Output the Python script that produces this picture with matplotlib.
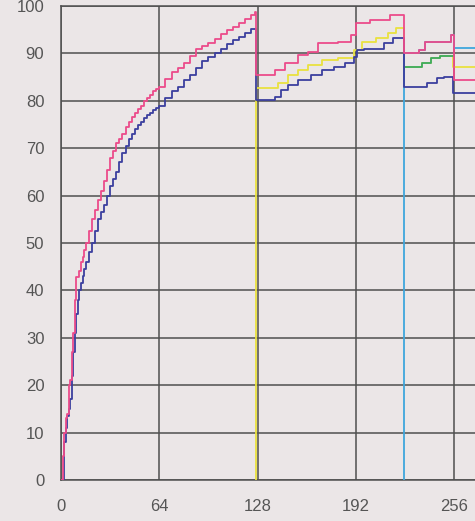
import matplotlib
matplotlib.use("Agg")
import matplotlib.pyplot as plt

# ---- data ----
pink_x = [0, 1, 2, 3, 4, 5, 6, 7, 8, 9, 10, 12, 13, 14, 15, 16, 18, 20, 22, 24, 26, 28, 30,
          32, 34, 36, 38, 40, 42, 44, 46, 48, 50, 52, 54, 56, 58, 60, 62,
          64, 68, 72, 76, 80, 84, 88, 92, 96, 100, 104, 108, 112, 116, 120, 124, 126,
          127, 139, 146, 154, 161, 167, 180, 189, 192, 201, 214,
          223, 233, 237, 254, 256, 269.5]
pink_y = [0, 5, 10, 13, 14, 20, 21, 27, 31, 38, 42.8, 44, 46, 47, 48.5, 50, 52.5, 55, 57, 59, 61, 63, 65.5,
          68, 69.5, 71, 72, 73, 74.5, 75.5, 76.5, 77.5, 78.3, 79, 80, 80.5, 81.2, 82, 82.5,
          83, 84.5, 86, 87, 88, 89.5, 91, 91.5, 92.2, 93, 94, 95, 95.6, 96.5, 97.3, 98, 98.8,
          85.5, 86.5, 88, 89.7, 90.4, 92.1, 92.5, 93.9, 96.4, 97, 98,
          90, 90.7, 92.5, 93.9, 84.4, 84.4]

blue_x = [0, 2, 3, 4, 5, 6, 7, 8, 9, 10, 11, 12, 13, 14, 15, 16, 18, 20, 22, 24, 26, 28, 30,
          32, 34, 36, 38, 40, 42, 44, 46, 48, 50, 52, 54, 56, 58, 60, 62,
          64, 68, 72, 76, 80, 84, 88, 92, 96, 100, 104, 108, 112, 116, 120, 124,
          127, 139, 143.5, 148, 154, 163, 170, 178, 185, 191, 193, 197, 210, 216,
          223, 238, 245, 249, 255.5, 269.5]
blue_y = [0, 8, 11, 13.5, 15, 17, 22, 27, 31, 35, 38, 40, 41.5, 43, 44.5, 46, 48, 50, 52.5, 55, 56.5, 58, 60,
          62, 63.5, 65, 67, 69, 70.5, 72, 73, 74, 74.8, 75.5, 76.3, 77, 77.5, 78, 78.5,
          79, 80.5, 82, 83, 84.4, 85.5, 87, 88.3, 89.2, 90, 91, 92, 92.8, 93.5, 94.3, 95.2,
          80.2, 80.7, 82.3, 83.3, 84.4, 85.4, 86.5, 87.2, 88, 89.2, 90.7, 91, 92.1, 93.3,
          83, 83.7, 84.8, 85.1, 81.6, 81.6]

yellow_x = [127, 127, 141, 148, 154, 161, 170, 180, 191, 196, 205, 213, 218,
            223, 235, 241, 247, 255.5, 269.5]
yellow_y = [0, 82.6, 83.7, 85.4, 86.5, 87.6, 88.6, 89, 90.7, 92.3, 93.3, 94.3, 95.3,
            87.2, 88, 89, 89.5, 87.2, 87.2]

green_x = [223, 235, 241, 247, 255.5]
green_y = [87.2, 88, 89, 89.5, 89.5]

cyan_x = [223, 223, 233, 237, 254, 256, 269.5]
cyan_y = [0, 90, 90.7, 92.5, 93.9, 91.1, 91.1]

x_ticks = [0, 64, 128, 192, 256]
y_ticks = [0, 10, 20, 30, 40, 50, 60, 70, 80, 90, 100]

# ---- styling ----
bg = "#ebe6e7"
grid_c = "#4f4f4f"
txt_c = "#555555"

fig = plt.figure(figsize=(4.75, 5.21), dpi=100, facecolor=bg)
ax = fig.add_axes([61 / 475, 41 / 521, (475 - 61) / 475, (480 - 6) / 521])
ax.set_facecolor(bg)

lw = 1.3
ax.plot(yellow_x, yellow_y, drawstyle="steps-post", color="#e9e13f", lw=lw, zorder=3)
ax.plot(cyan_x, cyan_y, drawstyle="steps-post", color="#3fa6dc", lw=lw, zorder=3)
ax.plot(green_x, green_y, drawstyle="steps-post", color="#3caa62", lw=lw, zorder=3)
ax.plot(blue_x, blue_y, drawstyle="steps-post", color="#3b3f9e", lw=lw, zorder=4)
ax.plot(pink_x, pink_y, drawstyle="steps-post", color="#ec4b8a", lw=lw, zorder=5)

ax.set_xlim(0, 269.5)
ax.set_ylim(0, 100)
ax.set_xticks(x_ticks)
ax.set_yticks(y_ticks)
ax.grid(True, color=grid_c, lw=1.1, zorder=1)
ax.set_axisbelow(True)
ax.spines["right"].set_visible(False)
for s in ["left", "bottom", "top"]:
    ax.spines[s].set_color(grid_c)
    ax.spines[s].set_linewidth(1.1)
    ax.spines[s].set_zorder(1)

ax.tick_params(axis="both", length=0, labelsize=12, labelcolor=txt_c)
ax.tick_params(axis="y", pad=12)
ax.tick_params(axis="x", pad=14)
for lab in ax.get_xticklabels() + ax.get_yticklabels():
    lab.set_fontfamily("Liberation Sans")

fig.savefig("out.png", dpi=100, facecolor=bg)
